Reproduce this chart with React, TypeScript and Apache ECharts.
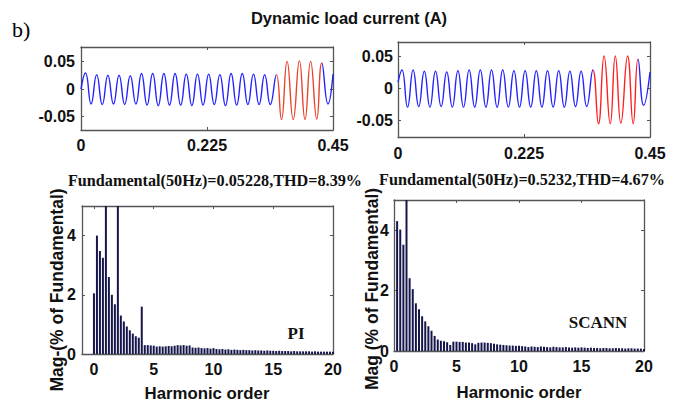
import React, { useEffect, useRef } from "react";
import * as echarts from "echarts";

// ---- waveform data (extrema) ----
const piWaveT = [0, 0.008, 0.018, 0.028, 0.038, 0.048, 0.058, 0.068, 0.078, 0.088, 0.098, 0.108, 0.118, 0.128, 0.138, 0.148, 0.158, 0.168, 0.178, 0.188, 0.198, 0.208, 0.218, 0.228, 0.238, 0.248, 0.258, 0.268, 0.278, 0.288, 0.298, 0.308, 0.318, 0.328, 0.338, 0.349, 0.358, 0.368, 0.379, 0.39, 0.4, 0.41, 0.421, 0.43, 0.441, 0.45];
const piWaveV = [0, 0.029, -0.027, 0.026, -0.028, 0.025, -0.027, 0.025, -0.028, 0.024, -0.027, 0.028, -0.029, 0.028, -0.03, 0.028, -0.029, 0.028, -0.029, 0.027, -0.03, 0.027, -0.029, 0.027, -0.028, 0.026, -0.03, 0.028, -0.029, 0.028, -0.028, 0.027, -0.028, 0.026, -0.028, 0.026, -0.055, 0.05, -0.055, 0.051, -0.055, 0.05, -0.054, 0.047, -0.027, 0.027];
const scannWaveT = [0, 0.007, 0.017, 0.027, 0.037, 0.047, 0.057, 0.067, 0.077, 0.087, 0.097, 0.107, 0.117, 0.127, 0.137, 0.147, 0.157, 0.167, 0.177, 0.187, 0.197, 0.207, 0.217, 0.227, 0.237, 0.247, 0.257, 0.267, 0.277, 0.287, 0.297, 0.307, 0.317, 0.327, 0.337, 0.348, 0.358, 0.368, 0.379, 0.388, 0.398, 0.41, 0.42, 0.4286, 0.4386, 0.45];
const scannWaveV = [0.01, 0.029, -0.029, 0.029, -0.028, 0.027, -0.029, 0.027, -0.028, 0.026, -0.029, 0.028, -0.029, 0.029, -0.029, 0.029, -0.029, 0.029, -0.029, 0.029, -0.029, 0.028, -0.029, 0.028, -0.029, 0.028, -0.029, 0.028, -0.029, 0.028, -0.029, 0.027, -0.028, 0.027, -0.028, 0.029, -0.055, 0.051, -0.055, 0.051, -0.054, 0.051, -0.055, 0.046, -0.026, 0.026];
const piRedStart = 0.349;
const piRedEnd = 0.4305;
const scannRedStart = 0.348;
const scannRedEnd = 0.429;

// ---- harmonic spectra ----
const harmonicOrders = [0, 0.25, 0.5, 0.75, 1, 1.25, 1.5, 1.75, 2, 2.25, 2.5, 2.75, 3, 3.25, 3.5, 3.75, 4, 4.25, 4.5, 4.75, 5, 5.25, 5.5, 5.75, 6, 6.25, 6.5, 6.75, 7, 7.25, 7.5, 7.75, 8, 8.25, 8.5, 8.75, 9, 9.25, 9.5, 9.75, 10, 10.25, 10.5, 10.75, 11, 11.25, 11.5, 11.75, 12, 12.25, 12.5, 12.75, 13, 13.25, 13.5, 13.75, 14, 14.25, 14.5, 14.75, 15, 15.25, 15.5, 15.75, 16, 16.25, 16.5, 16.75, 17, 17.25, 17.5, 17.75, 18, 18.25, 18.5, 18.75, 19, 19.25, 19.5, 19.75, 20];
const piMag = [2.05, 4.0, 3.48, 3.25, 100, 2.6, 2.0, 1.68, 100, 1.3, 1.1, 0.93, 0.8, 0.69, 0.6, 0.55, 1.6, 0.3, 0.3, 0.29, 0.28, 0.25, 0.26, 0.25, 0.26, 0.27, 0.26, 0.28, 0.3, 0.29, 0.3, 0.28, 0.29, 0.22, 0.21, 0.22, 0.2, 0.19, 0.2, 0.18, 0.2, 0.17, 0.16, 0.17, 0.15, 0.16, 0.14, 0.15, 0.14, 0.13, 0.14, 0.13, 0.13, 0.12, 0.13, 0.12, 0.12, 0.11, 0.12, 0.11, 0.11, 0.1, 0.11, 0.1, 0.1, 0.1, 0.09, 0.1, 0.09, 0.09, 0.09, 0.09, 0.09, 0.08, 0.09, 0.08, 0.08, 0.08, 0.08, 0.08, 0.08];
const scannMag = [0, 4.3, 4.02, 3.52, 100, 2.41, 2.05, 1.58, 1.38, 1.15, 0.98, 0.82, 0.67, 0.5, 0.38, 0.34, 0.32, 0.29, 0.2, 0.31, 0.31, 0.3, 0.3, 0.28, 0.28, 0.26, 0.22, 0.27, 0.28, 0.28, 0.27, 0.26, 0.24, 0.22, 0.21, 0.2, 0.19, 0.18, 0.18, 0.17, 0.17, 0.16, 0.15, 0.13, 0.15, 0.14, 0.13, 0.15, 0.14, 0.13, 0.12, 0.14, 0.13, 0.12, 0.12, 0.13, 0.12, 0.11, 0.12, 0.11, 0.12, 0.11, 0.1, 0.11, 0.1, 0.1, 0.09, 0.1, 0.1, 0.09, 0.09, 0.1, 0.09, 0.09, 0.08, 0.09, 0.09, 0.08, 0.08, 0.08, 0.07];

// ---- ticks and texts ----
const waveXTicks = [0, 0.225, 0.45];
const waveYTicks = [-0.05, 0, 0.05];
const specXTicks = [0, 5, 10, 15, 20];
const specYTicks = [0, 2, 4];
const mainTitle = "Dynamic load current (A)";
const piSubtitle = "Fundamental(50Hz)=0.05228,THD=8.39%";
const scannSubtitle = "Fundamental(50Hz)=0.5232,THD=4.67%";
const piYName = "Mag-(% of Fundamental)";
const scannYName = "Mag (% of Fundamental)";
const xName = "Harmonic order";

const SANS = "'Liberation Sans', Arial, sans-serif";
const SERIF = "'Liberation Serif', 'Times New Roman', serif";
const BOX = "#555555";
const BAR = "#16164c";

function axisPair(grid: number, min: number, max: number, ticks: number[], fmt: (v: number) => string, margin: number, isX: boolean) {
  const common = {
    type: "value",
    gridIndex: grid,
    min,
    max,
    splitLine: { show: false },
    axisLine: { show: true, onZero: false, lineStyle: { color: BOX, width: 1.3 } },
    axisTick: { show: true, inside: true, length: 3, customValues: ticks, lineStyle: { color: BOX, width: 1 } },
  };
  return [
    {
      ...common,
      position: isX ? "bottom" : "left",
      axisLabel: {
        show: true,
        customValues: ticks,
        formatter: fmt,
        margin,
        color: "#111",
        fontFamily: SANS,
        fontWeight: "bold",
        fontSize: 16,
        showMinLabel: true,
        showMaxLabel: true,
        hideOverlap: false,
      },
    },
    {
      ...common,
      position: isX ? "top" : "right",
      axisLabel: { show: false },
    },
  ];
}

const fmtWaveY = (v: number) => (Math.abs(v) < 1e-9 ? "0" : v.toFixed(2));
const fmtWaveX = (v: number) => (v === 0 ? "0" : String(v));
const fmtInt = (v: number) => String(Math.round(v));

export default function App() {
  const ref = useRef<HTMLDivElement>(null);
  useEffect(() => {
    document.body.style.margin = "0";
    if (!ref.current) return;
    const chart = echarts.init(ref.current, null, { renderer: "svg" });

    const grids = [
      { left: 81, top: 47, width: 252, height: 83 },
      { left: 398, top: 42, width: 252, height: 95 },
      { left: 82, top: 206, width: 251, height: 148 },
      { left: 394, top: 200, width: 250, height: 151 },
    ].map((g) => ({ ...g, outerBoundsMode: "none", containLabel: false }));

    const xAxes = [
      ...axisPair(0, 0, 0.45, waveXTicks, fmtWaveX, 7, true),
      ...axisPair(1, 0, 0.45, waveXTicks, fmtWaveX, 8, true),
      ...axisPair(2, -1, 20, specXTicks, fmtInt, 7, true),
      ...axisPair(3, 0, 20, specXTicks, fmtInt, 7, true),
    ];
    const yAxes = [
      ...axisPair(0, -0.074, 0.076, waveYTicks, fmtWaveY, 6, false),
      ...axisPair(1, -0.0756, 0.0728, waveYTicks, fmtWaveY, 5, false),
      ...axisPair(2, 0, 5, specYTicks, fmtInt, 6, false),
      ...axisPair(3, 0, 5, specYTicks, fmtInt, 5, false),
    ];

    const wave = (t: number[], v: number[]) => t.map((x, i) => [x, v[i]]);
    const spec = (v: number[]) => harmonicOrders.map((x, i) => [x, v[i]]);

    const option = {
      animation: false,
      backgroundColor: "#ffffff",
      grid: grids,
      xAxis: xAxes,
      yAxis: yAxes,
      visualMap: [
        {
          type: "piecewise",
          show: false,
          seriesIndex: 0,
          dimension: 0,
          pieces: [
            { lt: piRedStart, color: "#2323ff" },
            { gte: piRedStart, lte: piRedEnd, color: "#e8432b" },
            { gt: piRedEnd, color: "#2323ff" },
          ],
        },
        {
          type: "piecewise",
          show: false,
          seriesIndex: 1,
          dimension: 0,
          pieces: [
            { lt: scannRedStart, color: "#2323ff" },
            { gte: scannRedStart, lte: scannRedEnd, color: "#ff1f1f" },
            { gt: scannRedEnd, color: "#2323ff" },
          ],
        },
      ],
      series: [
        {
          type: "line",
          xAxisIndex: 0,
          yAxisIndex: 0,
          data: wave(piWaveT, piWaveV),
          smooth: 0.5,
          symbol: "none",
          lineStyle: { width: 1.4 },
        },
        {
          type: "line",
          xAxisIndex: 2,
          yAxisIndex: 2,
          data: wave(scannWaveT, scannWaveV),
          smooth: 0.5,
          symbol: "none",
          lineStyle: { width: 1.4 },
        },
        {
          type: "bar",
          xAxisIndex: 4,
          yAxisIndex: 4,
          data: spec(piMag),
          barWidth: 2,
          clip: true,
          itemStyle: { color: BAR },
        },
        {
          type: "bar",
          xAxisIndex: 6,
          yAxisIndex: 6,
          data: spec(scannMag),
          barWidth: 2,
          clip: true,
          itemStyle: { color: BAR },
        },
      ],
      graphic: [
        { type: "text", x: 12, y: 29, style: { text: "b)", font: `22px ${SERIF}`, fill: "#000", textVerticalAlign: "middle" } },
        { type: "text", x: 349, y: 18, style: { text: mainTitle, font: `bold 16.5px ${SANS}`, fill: "#111", textAlign: "center", textVerticalAlign: "middle" } },
        { type: "text", x: 215, y: 181, style: { text: piSubtitle, font: `bold 16.2px ${SERIF}`, fill: "#111", textAlign: "center", textVerticalAlign: "middle" } },
        { type: "text", x: 522, y: 180, style: { text: scannSubtitle, font: `bold 16.2px ${SERIF}`, fill: "#111", textAlign: "center", textVerticalAlign: "middle" } },
        { type: "text", x: 57, y: 290, rotation: Math.PI / 2, style: { text: piYName, font: `bold 17.5px ${SANS}`, fill: "#111", textAlign: "center", textVerticalAlign: "middle" } },
        { type: "text", x: 372, y: 289, rotation: Math.PI / 2, style: { text: scannYName, font: `bold 17.5px ${SANS}`, fill: "#111", textAlign: "center", textVerticalAlign: "middle" } },
        { type: "text", x: 207, y: 393, style: { text: xName, font: `bold 16.8px ${SANS}`, fill: "#111", textAlign: "center", textVerticalAlign: "middle" } },
        { type: "text", x: 519, y: 392, style: { text: xName, font: `bold 16.8px ${SANS}`, fill: "#111", textAlign: "center", textVerticalAlign: "middle" } },
        { type: "text", x: 296, y: 333, style: { text: "PI", font: `bold 17px ${SERIF}`, fill: "#111", textAlign: "center", textVerticalAlign: "middle" } },
        { type: "text", x: 598, y: 322, style: { text: "SCANN", font: `bold 17px ${SERIF}`, fill: "#111", textAlign: "center", textVerticalAlign: "middle" } },
      ],
    };
    chart.setOption(option as any);
    return () => chart.dispose();
  }, []);
  return <div ref={ref} style={{ width: 682, height: 403 }} />;
}
